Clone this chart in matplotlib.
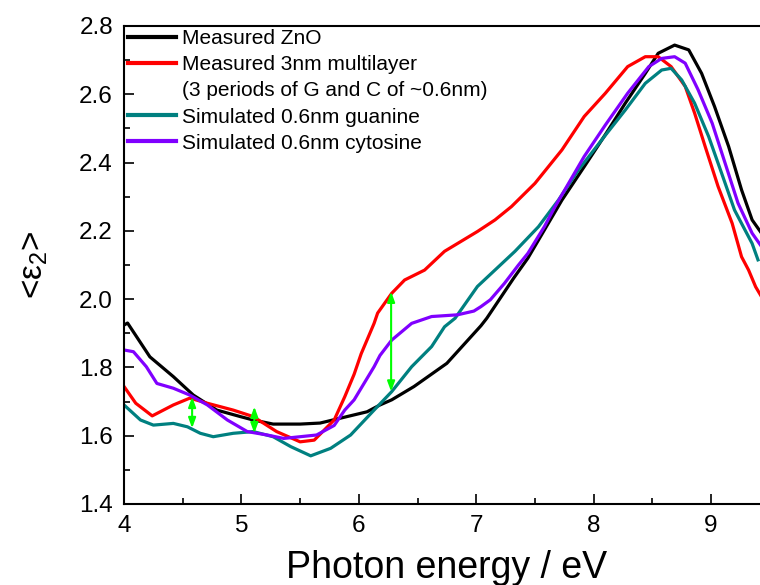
import matplotlib
matplotlib.use("Agg")
import matplotlib.pyplot as plt
from matplotlib.lines import Line2D
from matplotlib.ticker import MultipleLocator

plt.rcParams['font.family'] = ['Liberation Sans', 'DejaVu Sans']
plt.rcParams['mathtext.fontset'] = 'custom'
plt.rcParams['mathtext.rm'] = 'Liberation Sans'
plt.rcParams['mathtext.it'] = 'Liberation Sans:italic'

# ---- data ----
zno_x = [4.00, 4.03, 4.22, 4.42, 4.59, 4.79, 4.99, 5.10, 5.27, 5.50, 5.67, 5.90, 6.07, 6.18, 6.28,
         6.47, 6.75, 7.04, 7.09, 7.32, 7.44, 7.73, 7.92, 8.10, 8.27, 8.44, 8.55, 8.69, 8.81, 8.92,
         9.03, 9.15, 9.26, 9.35, 9.43]
zno_y = [1.924, 1.930, 1.831, 1.773, 1.719, 1.675, 1.656, 1.646, 1.634, 1.634, 1.637, 1.656, 1.670, 1.690, 1.705,
         1.744, 1.812, 1.922, 1.944, 2.062, 2.120, 2.290, 2.388, 2.482, 2.574, 2.661, 2.720, 2.744, 2.730, 2.661,
         2.564, 2.447, 2.320, 2.232, 2.193]

ml_x = [4.00, 4.10, 4.24, 4.42, 4.56, 4.71, 4.93, 5.10, 5.30, 5.50, 5.62, 5.79, 5.88, 5.96, 6.02, 6.13,
        6.16, 6.28, 6.39, 6.56, 6.73, 7.01, 7.16, 7.30, 7.50, 7.73, 7.92, 8.10, 8.29, 8.44, 8.55, 8.66,
        8.78, 8.86, 8.95, 9.06, 9.18, 9.26, 9.32, 9.38, 9.43]
ml_y = [1.744, 1.695, 1.658, 1.690, 1.710, 1.695, 1.675, 1.656, 1.612, 1.582, 1.587, 1.646, 1.714, 1.780, 1.840, 1.929,
        1.959, 2.017, 2.056, 2.085, 2.140, 2.198, 2.232, 2.271, 2.339, 2.437, 2.535, 2.603, 2.681, 2.710, 2.710, 2.681,
        2.623, 2.545, 2.447, 2.330, 2.222, 2.124, 2.085, 2.036, 2.007]

gua_x = [4.00, 4.14, 4.25, 4.42, 4.54, 4.65, 4.76, 4.93, 5.10, 5.27, 5.42, 5.59, 5.76, 5.93, 6.13, 6.28,
         6.45, 6.62, 6.73, 6.82, 7.01, 7.33, 7.53, 7.70, 7.87, 8.10, 8.27, 8.44, 8.58, 8.66, 8.75, 8.86,
         8.98, 9.09, 9.20, 9.29, 9.35, 9.40]
gua_y = [1.690, 1.646, 1.631, 1.636, 1.626, 1.607, 1.597, 1.607, 1.612, 1.597, 1.568, 1.541, 1.563, 1.602, 1.675, 1.729,
         1.802, 1.861, 1.919, 1.944, 2.037, 2.140, 2.212, 2.290, 2.378, 2.480, 2.554, 2.632, 2.671, 2.676, 2.642, 2.574,
         2.476, 2.369, 2.261, 2.202, 2.163, 2.115]

cyt_x = [4.00, 4.08, 4.19, 4.28, 4.42, 4.56, 4.71, 4.88, 5.05, 5.22, 5.36, 5.50, 5.64, 5.79, 5.88, 5.96,
         6.13, 6.18, 6.28, 6.45, 6.62, 6.84, 6.98, 7.04, 7.12, 7.24, 7.36, 7.44, 7.58, 7.67, 7.92, 8.10,
         8.29, 8.47, 8.58, 8.69, 8.78, 8.89, 9.01, 9.12, 9.23, 9.35, 9.43]
cyt_y = [1.851, 1.846, 1.802, 1.753, 1.739, 1.719, 1.690, 1.646, 1.612, 1.602, 1.592, 1.597, 1.602, 1.630, 1.675, 1.705,
         1.802, 1.835, 1.880, 1.929, 1.949, 1.954, 1.965, 1.978, 1.998, 2.046, 2.100, 2.134, 2.212, 2.270, 2.418, 2.510,
         2.603, 2.681, 2.705, 2.710, 2.691, 2.613, 2.515, 2.398, 2.281, 2.193, 2.154]

# difference arrows: x, top, bottom
arrow_x = [4.58, 5.11, 6.275]
arrow_top = [1.714, 1.685, 2.022]
arrow_bot = [1.622, 1.607, 1.729]

labels = ["Measured ZnO", "Measured 3nm multilayer", "(3 periods of G and C of ~0.6nm)",
          "Simulated 0.6nm guanine", "Simulated 0.6nm cytosine"]
colors = ["#000000", "#ff0000", "#008080", "#8000ff"]

fig = plt.figure(figsize=(7.6, 5.85), dpi=100)
ax = fig.add_axes([0.1632, 0.1385, 0.8496, 0.8171])

lw = 2.3
l1, = ax.plot(zno_x, zno_y, color=colors[0], lw=lw)
l2, = ax.plot(ml_x, ml_y, color=colors[1], lw=lw)
l3, = ax.plot(gua_x, gua_y, color=colors[2], lw=lw)
l4, = ax.plot(cyt_x, cyt_y, color=colors[3], lw=lw)

for xa, yt, yb in zip(arrow_x, arrow_top, arrow_bot):
    ax.annotate("", xy=(xa, yb), xytext=(xa, yt),
                arrowprops=dict(arrowstyle="<|-|>,head_length=0.6,head_width=0.22",
                                color="#00ff00", lw=1.5, shrinkA=0, shrinkB=0))

ax.set_xlim(4, 9.5)
ax.set_ylim(1.4, 2.8)
ax.xaxis.set_major_locator(MultipleLocator(1))
ax.xaxis.set_minor_locator(MultipleLocator(0.5))
ax.yaxis.set_major_locator(MultipleLocator(0.2))
ax.yaxis.set_minor_locator(MultipleLocator(0.1))
ax.yaxis.set_major_formatter(plt.FuncFormatter(lambda v, p: f"{v:.1f}"))
ax.tick_params(which='both', direction='in', top=False, right=False, width=1.2)
ax.tick_params(which='major', length=7, labelsize=17.5, pad=8)
ax.tick_params(which='minor', length=4)
for s in ax.spines.values():
    s.set_linewidth(1.5)

ax.set_xlabel("Photon energy / eV", fontsize=27, labelpad=9)
ax.set_ylabel("<ε$_2$>", fontsize=24, labelpad=21)

blank = Line2D([], [], color='none')
leg = ax.legend([l1, l2, blank, l3, l4], labels, loc='upper left',
                bbox_to_anchor=(0.006, 0.993), frameon=False, fontsize=15,
                handlelength=2.3, handletextpad=0.3, labelspacing=0.34,
                borderpad=0.0, borderaxespad=0.0)
for h in leg.get_lines():
    h.set_linewidth(3)

fig.savefig("out.png", dpi=100)
